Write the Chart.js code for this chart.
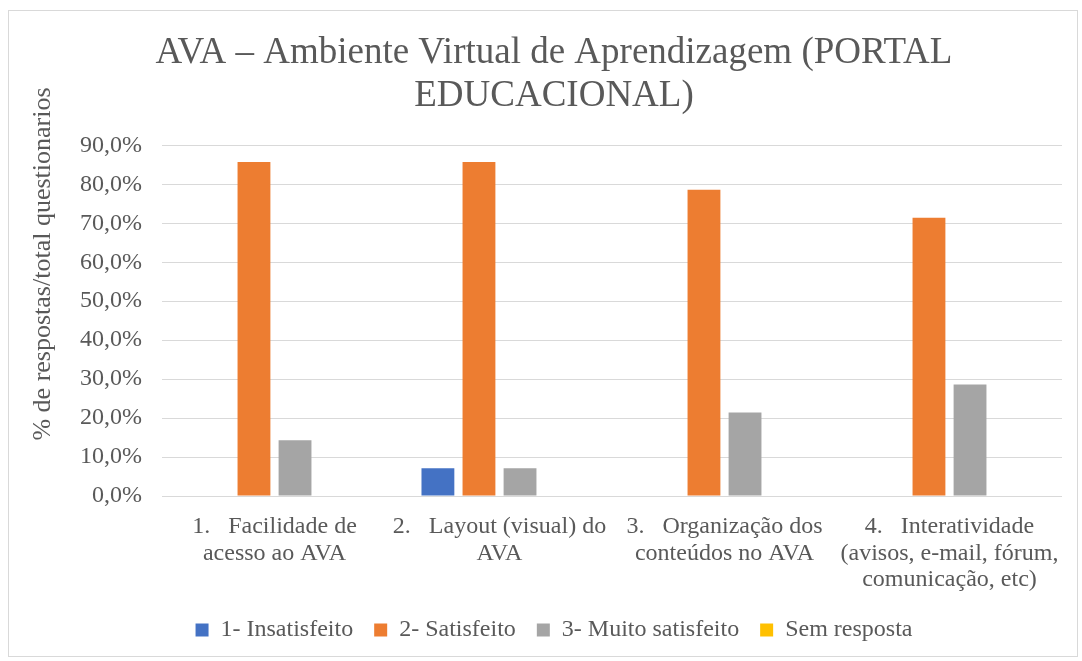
<!DOCTYPE html>
<html>
<head>
<meta charset="utf-8">
<script src="https://cdn.jsdelivr.net/npm/chart.js@4/dist/chart.umd.min.js"></script>
<style>
  body { margin: 0; background: #fff; }
  #wrap { position: relative; width: 1082px; height: 661px; }
  #frame {
    position: absolute; left: 8px; top: 10px; width: 1070px; height: 647px;
    border: 1px solid #d9d9d9; box-sizing: border-box; pointer-events: none;
  }
  canvas { position: absolute; left: 0; top: 0; }
</style>
</head>
<body>
<div id="wrap">
  <canvas id="chart" width="1082" height="661"></canvas>
  <div id="frame"></div>
</div>
<script>
const CATEGORIES = [
  ['1.   Facilidade de', 'acesso ao AVA'],
  ['2.   Layout (visual) do', 'AVA'],
  ['3.   Organização dos', 'conteúdos no AVA'],
  ['4.   Interatividade', '(avisos, e-mail, fórum,', 'comunicação, etc)']
];
const SERIES_NAMES = ['1- Insatisfeito', '2- Satisfeito', '3- Muito satisfeito', 'Sem resposta'];
const INSATISFEITO = [0, 7.1, 0, 0];
const SATISFEITO = [85.7, 85.7, 78.6, 71.4];
const MUITO_SATISFEITO = [14.3, 7.1, 21.4, 28.6];
const SEM_RESPOSTA = [0, 0, 0, 0];
const COLORS = ['#4472C4', '#ED7D31', '#A5A5A5', '#FFC000'];

const TITLE = ['AVA – Ambiente Virtual de Aprendizagem (PORTAL', 'EDUCACIONAL)'];
const Y_TITLE = '% de respostas/total questionarios';

const TEXT = '#595959';
const FONT = "'Liberation Serif', 'Times New Roman', serif";

// y title sits higher than the plot centre in the original, so draw it by hand
const yTitlePlugin = {
  id: 'yTitle',
  afterDraw(chart) {
    const ctx = chart.ctx;
    ctx.save();
    ctx.translate(43, 264);
    ctx.rotate(-Math.PI / 2);
    ctx.font = '26px ' + FONT;
    ctx.fillStyle = TEXT;
    ctx.textAlign = 'center';
    ctx.textBaseline = 'middle';
    ctx.fillText(Y_TITLE, 0, 0);
    ctx.restore();
  }
};

const values = [INSATISFEITO, SATISFEITO, MUITO_SATISFEITO, SEM_RESPOSTA];

new Chart(document.getElementById('chart'), {
  type: 'bar',
  data: {
    labels: CATEGORIES,
    datasets: SERIES_NAMES.map((name, i) => ({
      label: name,
      data: values[i],
      backgroundColor: COLORS[i],
      borderWidth: 0,
      categoryPercentage: 0.73,
      barPercentage: 0.8,
    }))
  },
  options: {
    responsive: false,
    animation: false,
    devicePixelRatio: 1,
    layout: { padding: { left: 46, right: 20, top: 0, bottom: 9 } },
    scales: {
      x: {
        grid: { display: false },
        border: { display: false },
        ticks: {
          autoSkip: false,
          maxRotation: 0,
          padding: 10,
          color: TEXT,
          font: { family: FONT, size: 24, lineHeight: 1.1 },
        },
        afterFit(scale) { scale.height = 101; },
      },
      y: {
        min: 0,
        max: 90,
        grid: { color: '#d9d9d9', lineWidth: 1, drawTicks: false },
        border: { display: false },
        ticks: {
          stepSize: 10,
          padding: 20,
          color: TEXT,
          font: { family: FONT, size: 24 },
          callback: (v) => v.toFixed(1).replace('.', ',') + '%',
        },
        afterFit(scale) { scale.width = 116; },
      }
    },
    plugins: {
      title: {
        display: true,
        text: TITLE,
        color: TEXT,
        font: { family: FONT, size: 37, weight: 'normal', lineHeight: 1.16 },
        padding: { top: 31.5, bottom: 28 },
      },
      legend: {
        position: 'bottom',
        labels: {
          color: TEXT,
          font: { family: FONT, size: 24 },
          boxWidth: 13,
          boxHeight: 13,
          padding: 21,
        }
      },
      tooltip: { enabled: false },
    },
  },
  plugins: [yTitlePlugin],
});
</script>
</body>
</html>
